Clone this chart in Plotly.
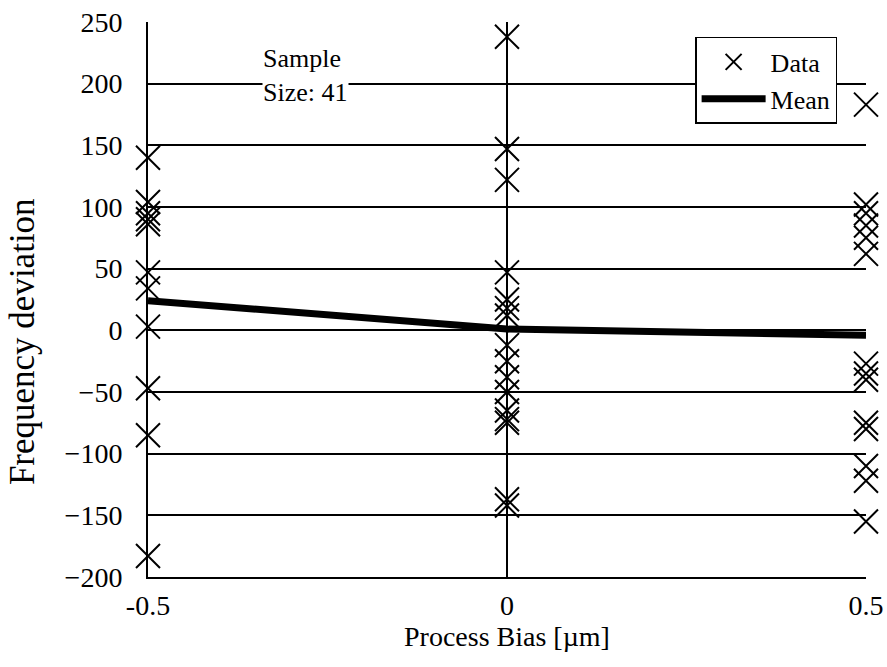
import plotly.graph_objects as go

# Data
bias_left = -0.5
bias_mid = 0.0
bias_right = 0.5
freq_left = [140, 104, 95, 90, 86, 47, 34, 3, -47, -85, -183]
freq_mid = [238, 147, 122, 47, 25, 18, 12, -12, -25, -38, -50, -65, -72, -75, -137, -142]
freq_right = [183, 102, 95, 85, 75, 62, -27, -35, -40, -75, -80, -110, -122, -155]

mean_x = [-0.5, 0.0, 0.5]
mean_y = [24, 1, -4]

x_ticks = [-0.5, 0, 0.5]
x_tick_labels = ["-0.5", "0", "0.5"]
y_ticks = [-200, -150, -100, -50, 0, 50, 100, 150, 200, 250]

xs = [bias_left] * len(freq_left) + [bias_mid] * len(freq_mid) + [bias_right] * len(freq_right)
ys = freq_left + freq_mid + freq_right

FONT = "Liberation Serif"

fig = go.Figure()
fig.add_trace(go.Scatter(
    x=xs, y=ys, mode="markers", name="Data",
    marker=dict(symbol="x-thin-open", size=24, color="black",
                line=dict(color="black", width=2)),
    cliponaxis=False,
))
fig.add_trace(go.Scatter(
    x=mean_x, y=mean_y, mode="lines", name="Mean",
    line=dict(color="black", width=7),
    cliponaxis=False,
))

fig.add_annotation(
    x=-0.281, y=207, xref="x", yref="y",
    text="Sample<br>Size: 41", showarrow=False, align="left",
    font=dict(family=FONT, size=26, color="black"),
    bgcolor="white", borderpad=0,
)

# y-axis title (placed lower than centre, as in the original)
fig.add_annotation(
    x=-0.1755, y=0.425, xref="paper", yref="paper",
    xanchor="center", yanchor="middle",
    text="Frequency deviation", textangle=-90, showarrow=False,
    font=dict(family=FONT, size=35, color="black"),
)

fig.update_layout(
    width=887, height=667,
    margin=dict(l=148, r=21, t=22, b=90, autoexpand=False),
    paper_bgcolor="white", plot_bgcolor="white",
    font=dict(family=FONT, size=28, color="black"),
    showlegend=True,
    legend=dict(
        x=0.762, y=0.973, xanchor="left", yanchor="top",
        bgcolor="white", bordercolor="black", borderwidth=1.5,
        font=dict(family=FONT, size=26, color="black"),
        tracegroupgap=0, itemwidth=64,
    ),
    xaxis=dict(
        range=[-0.5, 0.5], tickvals=x_ticks, ticktext=x_tick_labels,
        showgrid=True, gridcolor="black", gridwidth=2, automargin=False,
        zeroline=False, showline=True, linecolor="black", linewidth=2,
        ticks="", ticklabelstandoff=2, tickfont=dict(family=FONT, size=28),
        title=dict(text="Process Bias [µm]", font=dict(family=FONT, size=28), standoff=6),
    ),
    yaxis=dict(
        range=[-200, 250], tickvals=y_ticks, automargin=False,
        showgrid=True, gridcolor="black", gridwidth=2,
        zeroline=False, showline=True, linecolor="black", linewidth=2,
        ticks="", ticklabelstandoff=18, tickfont=dict(family=FONT, size=28),
    ),
)

fig.write_html(
    "out.html",
    config={"displayModeBar": False},
    post_script="document.body.style.margin='0';document.body.style.overflow='hidden';",
)
